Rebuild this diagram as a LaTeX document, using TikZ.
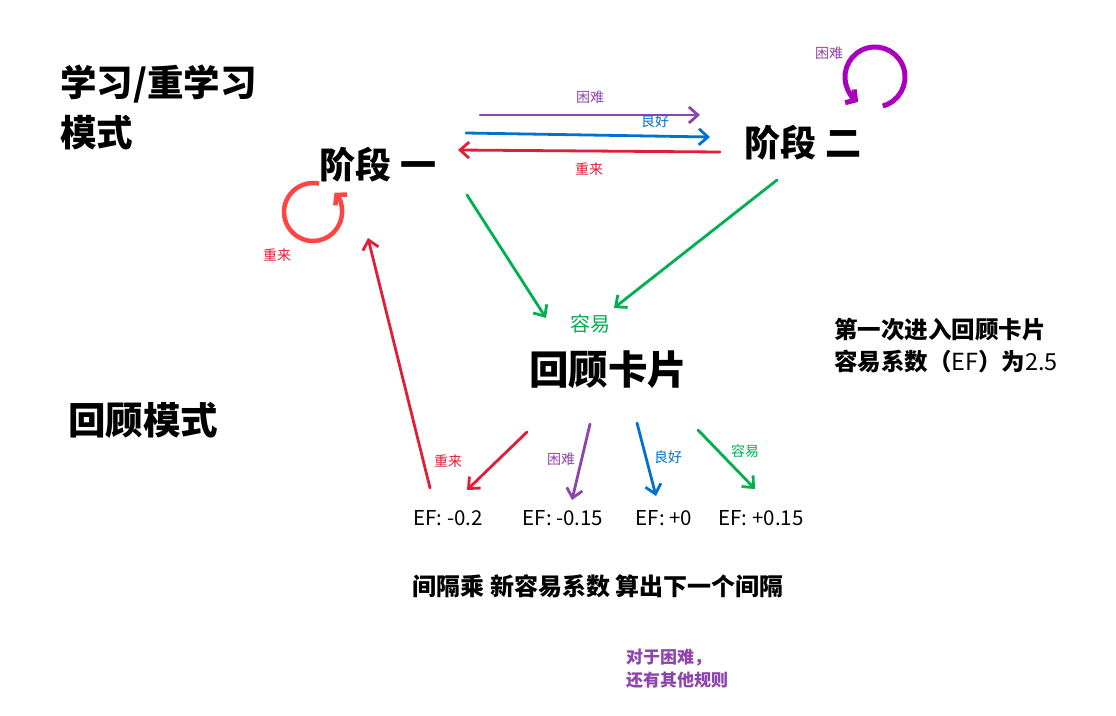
\documentclass[tikz,border=0pt]{standalone}
\usepackage{fontspec}
\setmainfont{Noto Sans CJK SC}
\usetikzlibrary{arrows.meta}
\definecolor{cardred}{RGB}{224,30,55}
\definecolor{cardblue}{RGB}{0,112,210}
\definecolor{cardpurple}{RGB}{142,68,173}
\definecolor{cardgreen}{RGB}{0,176,80}
\definecolor{loopred}{RGB}{255,68,68}
\definecolor{looppurple}{RGB}{170,0,190}

\begin{document}
\begin{tikzpicture}[x=1pt, y=-1pt,
  every node/.style={inner sep=0pt, align=left},
  title/.style={font=\fontsize{36.5}{50}\selectfont\bfseries},
  stage/.style={font=\fontsize{36}{40}\selectfont\bfseries},
  note/.style={font=\fontsize{24}{32}\selectfont\bfseries},
  lbl/.style={font=\fontsize{14}{16}\selectfont},
  ef/.style={font=\fontsize{20.5}{22}\selectfont},
  arr/.style={-{Straight Barb[length=9pt, width=16pt]}, line width=2.8pt, line cap=round},
  loop/.style={-{Straight Barb[length=7pt, width=16pt]}, line width=4.5pt}
]
  \fill[white] (0,0) rectangle (1116,715);
  \useasboundingbox (0,0) rectangle (1116,715);

  % Titles
  \node[title, anchor=north west] (learn) at (60,65) {学习/重学习\\模式};
  \node[title, font=\fontsize{37.5}{40}\selectfont\bfseries, anchor=west] (review) at (68,420) {回顾模式};

  % Stages and card
  \node[stage] (one) at (378,165) {阶段 一};
  \node[stage] (two) at (803,143) {阶段 二};
  \node[stage, font=\fontsize{39.5}{42}\selectfont\bfseries] (card) at (608,370) {回顾卡片};
  \node[font=\fontsize{20}{22}\selectfont, text=cardgreen] (easy) at (590,324) {容易};

  % Side notes
  \node[note, anchor=west, font=\fontsize{23.5}{32}\selectfont\bfseries] (first) at (834,346) {第一次进入回顾卡片\\容易系数（{\mdseries E\kern-0.5ptF}）为{\mdseries 2.5}};
  \node[note] (interval) at (598,586) {间隔乘 新容易系数 算出下一个间隔};
  \node[anchor=west, font=\fontsize{17}{23}\selectfont\bfseries, text=cardpurple] (hard) at (626,669) {对于困难，\\还有其他规则};

  % Stage one <-> stage two
  \coordinate (p1) at (480,115);  \coordinate (p2) at (700,115);
  \coordinate (b1) at (466,133);  \coordinate (b2) at (710,137);
  \coordinate (r1) at (720,152);  \coordinate (r2) at (458,150);
  \draw[arr, cardpurple] (p1) -- node[lbl, above=10pt] {困难} (p2);
  \draw[arr, cardblue] (b1) -- (b2);
  \node[lbl, text=cardblue] (goodtop) at (655,121) {良好};
  \draw[arr, cardred] (r1) -- node[lbl, below=10pt] {重来} (r2);

  % Loops
  \coordinate (lr) at (313,212);
  \draw[loop, loopred] ([shift={(78:29pt)}]lr) arc[start angle=78, end angle=402, radius=29pt];
  \node[lbl, text=cardred] (againloop) at (277,255) {重来};
  \coordinate (lp) at (875,77);
  \draw[loop, looppurple, line width=5pt] ([shift={(-75:30pt)}]lp) arc[start angle=-75, end angle=236, radius=30pt];
  \node[lbl, text=cardpurple] (hardloop) at (829,53) {困难};

  % Into the card
  \coordinate (g1) at (467,195);  \coordinate (g2) at (546,318);
  \coordinate (g3) at (777,180);  \coordinate (g4) at (614,308);
  \draw[arr, cardgreen] (g1) -- (g2);
  \draw[arr, cardgreen] (g3) -- (g4);

  % Back to stage one
  \coordinate (u1) at (430,488);  \coordinate (u2) at (368,238);
  \draw[arr, cardred] (u1) -- (u2);

  % Answers from the card
  \node[ef] (ef1) at (448,518) {EF: -0.2};
  \node[ef] (ef2) at (563,518) {EF: -0.15};
  \node[ef] (ef3) at (664,518) {EF: +0};
  \node[ef] (ef4) at (761,518) {EF: +0.15};
  \coordinate (a1) at (527,432);  \coordinate (a2) at (467,490);
  \coordinate (a3) at (590,424);  \coordinate (a4) at (572,500);
  \coordinate (a5) at (637,423);  \coordinate (a6) at (656,496);
  \coordinate (a7) at (698,430);  \coordinate (a8) at (755,489);
  \draw[arr, cardred] (a1) -- (a2);
  \draw[arr, cardpurple] (a3) -- (a4);
  \draw[arr, cardblue] (a5) -- (a6);
  \draw[arr, cardgreen] (a7) -- (a8);
  \node[lbl, text=cardred] (again) at (448,461) {重来};
  \node[lbl, text=cardpurple] (hardb) at (561,459) {困难};
  \node[lbl, text=cardblue] (good) at (668,457) {良好};
  \node[lbl, text=cardgreen] (easyb) at (745,451) {容易};

\end{tikzpicture}
\end{document}
